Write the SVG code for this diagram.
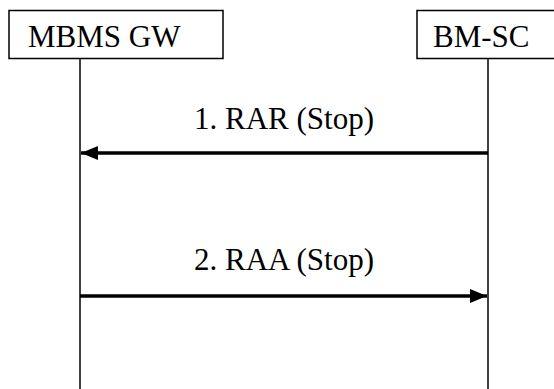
<svg xmlns="http://www.w3.org/2000/svg" width="554" height="389" viewBox="0 0 554 389">
<style>
.box{fill:#fff;stroke:#000;stroke-width:1.5}
.life{stroke:#000;stroke-width:1.5}
.msg{stroke:#000;stroke-width:3.5}
text{font-family:"Liberation Serif","Times New Roman",serif;font-size:31px;fill:#000}
</style>
<defs>
<marker id="ah" markerUnits="userSpaceOnUse" markerWidth="18" markerHeight="14" refX="17" refY="7" orient="auto">
<path d="M0,0 L17,7 L0,14 Z" fill="#000"/>
</marker>
</defs>
<g id="connectors">
<line class="life" x1="80" y1="59" x2="80" y2="389"/>
<line class="life" x1="488" y1="59" x2="488" y2="389"/>
<line class="msg" x1="488" y1="153" x2="81" y2="153" marker-end="url(#ah)"/>
<line class="msg" x1="80" y1="296" x2="487" y2="296" marker-end="url(#ah)"/>
<text x="284" y="129" text-anchor="middle">1. RAR (Stop)</text>
<text x="284" y="270" text-anchor="middle">2. RAA (Stop)</text>
</g>
<g id="mbms-gw">
<rect class="box" x="9" y="10.5" width="214" height="48"/>
<text x="28" y="47">MBMS GW</text>
</g>
<g id="bm-sc">
<rect class="box" x="417" y="10.5" width="150" height="48"/>
<text x="433" y="47">BM-SC</text>
</g>
</svg>
